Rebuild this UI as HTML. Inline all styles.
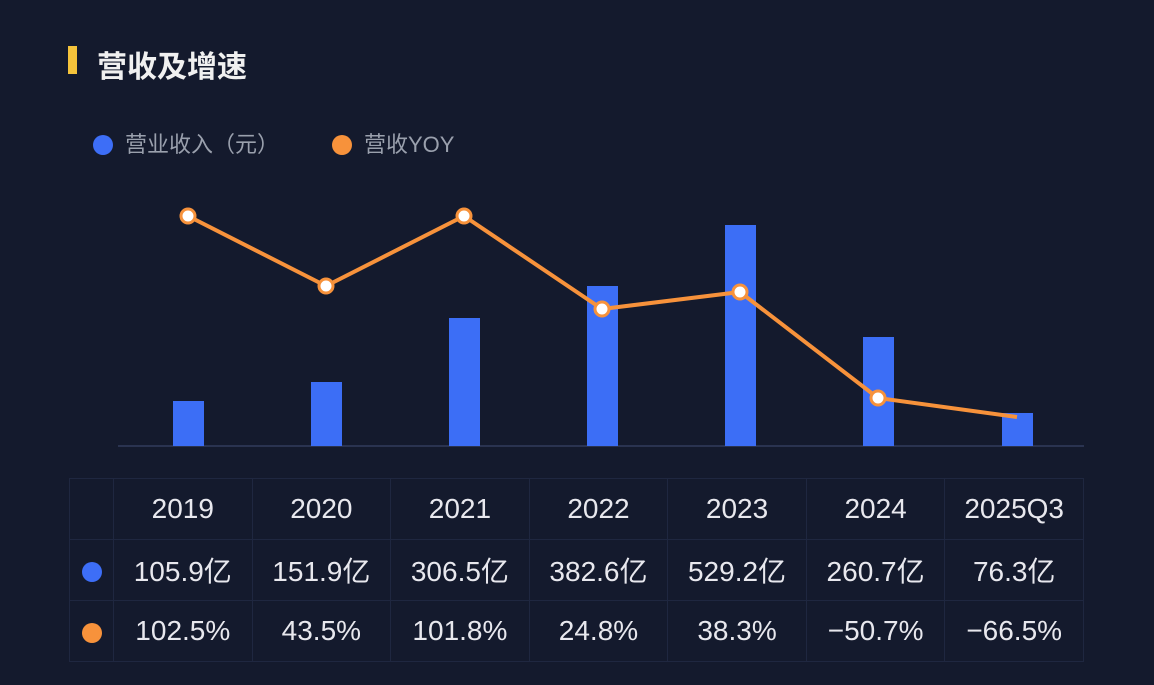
<!DOCTYPE html>
<html><head><meta charset="utf-8"><style>
body{margin:0;width:1154px;height:685px;background:#141a2d;overflow:hidden;font-family:"Liberation Sans","Noto Sans CJK SC",sans-serif}
.t{position:absolute;left:97px;top:42px;font-size:30px;color:#f0f0f0;font-weight:bold}
.bar{position:absolute;left:68px;top:46px;width:9px;height:28px;background:#f5c33b}
.lg{position:absolute;top:127px;font-size:22px;color:#9aa0ad}
.dot{display:inline-block;width:20px;height:20px;border-radius:50%;vertical-align:-3px;margin-right:12px}
table{position:absolute;left:69px;top:478px;border-collapse:collapse;table-layout:fixed;width:1015px}
td{border:1.5px solid #1f2740;height:60px;text-align:center;color:#e8e8ee;font-size:28px;padding:0}
td.f{width:43px}
</style></head><body>
<div class="bar"></div><div class="t">营收及增速</div>
<div class="lg" style="left:93px"><span class="dot" style="background:#3d6ef7"></span>营业收入（元）</div>
<div class="lg" style="left:332px"><span class="dot" style="background:#f7923b"></span>营收YOY</div>
<svg width="1154" height="685" style="position:absolute;left:0;top:0">
<line x1="118" y1="446" x2="1084" y2="446" stroke="#2a3350" stroke-width="2"/>
<g fill="#3c6ef6">
<rect x="173" y="401" width="31" height="45"/>
<rect x="311" y="382" width="31" height="64"/>
<rect x="449" y="318" width="31" height="128"/>
<rect x="587" y="286" width="31" height="160"/>
<rect x="725" y="225" width="31" height="221"/>
<rect x="863" y="337" width="31" height="109"/>
<rect x="1002" y="413" width="31" height="33"/>
</g>
<polyline points="188,216 326,286 464,216 602,309 740,292 878,398 1017,417" fill="none" stroke="#f7923b" stroke-width="4" stroke-linejoin="round"/>
<g fill="#fff" stroke="#f7923b" stroke-width="3">
<circle cx="188" cy="216" r="7"/><circle cx="326" cy="286" r="7"/><circle cx="464" cy="216" r="7"/>
<circle cx="602" cy="309" r="7"/><circle cx="740" cy="292" r="7"/><circle cx="878" cy="398" r="7"/>
</g>
</svg>
<table>
<tr><td class="f"></td><td>2019</td><td>2020</td><td>2021</td><td>2022</td><td>2023</td><td>2024</td><td>2025Q3</td></tr>
<tr><td class="f"><span class="dot" style="background:#3d6ef7;margin:0"></span></td><td>105.9亿</td><td>151.9亿</td><td>306.5亿</td><td>382.6亿</td><td>529.2亿</td><td>260.7亿</td><td>76.3亿</td></tr>
<tr><td class="f"><span class="dot" style="background:#f7923b;margin:0"></span></td><td>102.5%</td><td>43.5%</td><td>101.8%</td><td>24.8%</td><td>38.3%</td><td>−50.7%</td><td>−66.5%</td></tr>
</table>
</body></html>
